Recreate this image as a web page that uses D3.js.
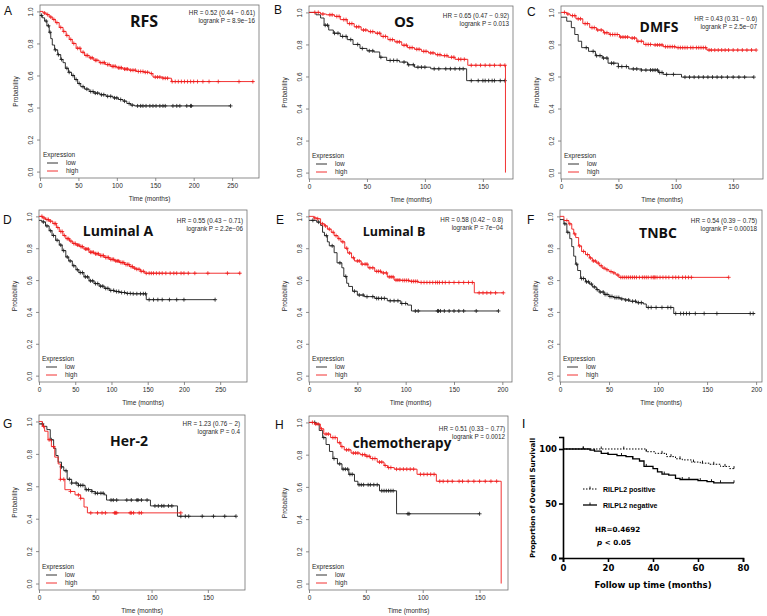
<!DOCTYPE html>
<html><head><meta charset="utf-8">
<script src="https://cdn.jsdelivr.net/npm/d3@7/dist/d3.min.js"></script>
<style>body{margin:0;background:#fff}svg{display:block}</style>
</head><body>
<svg id="c" width="767" height="616"></svg>
<script>
// ---------------- DATA ----------------
const panelLetters = ["A","B","C","D","E","F","G","H"];
const panelTitles = ["RFS","OS","DMFS","Luminal A","Luminal B","TNBC","Her-2","chemotherapy"];
const hrTexts = ["HR = 0.52 (0.44 \u2212 0.61)","HR = 0.65 (0.47 \u2212 0.92)","HR = 0.43 (0.31 \u2212 0.6)","HR = 0.55 (0.43 \u2212 0.71)","HR = 0.58 (0.42 \u2212 0.8)","HR = 0.54 (0.39 \u2212 0.75)","HR = 1.23 (0.76 \u2212 2)","HR = 0.51 (0.33 \u2212 0.77)"];
const pTexts = ["logrank P = 8.9e\u221216","logrank P = 0.013","logrank P = 2.5e\u221207","logrank P = 2.2e\u221206","logrank P = 7e\u221204","logrank P = 0.00018","logrank P = 0.4","logrank P = 0.0012"];
const xTicks250 = [0,50,100,150,200,250];
const xTicks200 = [0,50,100,150,200];
const xTicks150 = [0,50,100,150];
const yTicks = [0,0.2,0.4,0.6,0.8,1.0];
const legendTitle = "Expression";
const legendLabels = ["low","high"];

// Kaplan-Meier steps: [time, survival from that time on]; censor times
const lowA = [[0,0.975],[3,0.96],[6,0.94],[9,0.91],[12,0.87],[14,0.83],[16,0.79],[19,0.76],[23,0.73],[27,0.70],[30,0.68],[33,0.645],[37,0.62],[41,0.60],[45,0.575],[49,0.55],[53,0.53],[58,0.515],[64,0.50],[70,0.49],[78,0.48],[86,0.47],[95,0.46],[102,0.45],[108,0.44],[113,0.425],[118,0.415],[123,0.41],[248,0.41]];
const highA = [[0,1],[4,0.99],[8,0.98],[12,0.965],[16,0.95],[20,0.93],[25,0.90],[30,0.875],[34,0.85],[38,0.825],[42,0.80],[47,0.77],[53,0.745],[58,0.725],[64,0.71],[70,0.695],[77,0.68],[85,0.668],[92,0.657],[100,0.648],[108,0.64],[116,0.633],[125,0.625],[135,0.62],[143,0.612],[147,0.59],[160,0.583],[171,0.562],[278,0.562]];
const lowCensA = [2,8,11,13,20,24,28,35,38,43,47,51,56,61,66,69,72,75,80,83,88,92,97,100,105,110,116,120,127,131,134,138,143,147,151,156,160,163,173,178,182,191,196,197,248];
const highCensA = [6,10,14,18,22,27,31,35,40,44,49,52,56,60,62,66,68,72,74,79,82,84,88,90,94,96,98,102,104,106,110,112,114,118,121,124,128,131,134,137,140,145,150,153,156,160,163,166,172,176,180,184,188,192,196,200,205,212,220,232,259,277];

const lowB = [[0,1],[6,0.985],[10,0.965],[13,0.92],[17,0.89],[21,0.87],[27,0.85],[33,0.83],[38,0.80],[44,0.775],[50,0.76],[56,0.753],[61,0.72],[67,0.70],[78,0.69],[85,0.673],[91,0.658],[105,0.648],[136,0.574],[169,0.574]];
const highB = [[0,1],[10,0.99],[15,0.985],[22,0.975],[27,0.955],[33,0.93],[39,0.91],[45,0.89],[51,0.88],[57,0.87],[62,0.85],[68,0.83],[74,0.816],[80,0.795],[85,0.78],[91,0.77],[97,0.757],[103,0.747],[109,0.736],[114,0.73],[120,0.72],[126,0.707],[137,0.67],[169.5,0.67],[169.5,0]];
const lowCensB = [14,16,22,25,29,32,36,42,46,52,55,62,70,73,76,82,86,90,94,97,100,108,112,118,122,126,130,133,140,146,150,152,155,158,160,165,169];
const highCensB = [5,8,12,18,20,24,26,30,32,35,37,41,43,47,49,53,55,59,61,64,66,70,72,76,78,82,84,87,89,93,95,99,101,105,107,111,113,117,119,123,125,129,131,134,140,144,148,152,156,160,165,169];

const lowC = [[0,0.97],[5,0.945],[9,0.905],[12,0.862],[15,0.82],[18,0.78],[24,0.757],[30,0.73],[36,0.715],[41,0.683],[50,0.662],[59,0.647],[70,0.64],[85,0.625],[89,0.613],[105,0.596],[168,0.596]];
const highC = [[0,1],[5,0.99],[8,0.98],[13,0.96],[19,0.93],[25,0.905],[31,0.89],[37,0.873],[42,0.862],[51,0.846],[60,0.84],[66,0.82],[72,0.80],[80,0.797],[89,0.786],[100,0.78],[127,0.765],[170,0.765]];
const lowCensC = [22,28,31,34,37,40,44,46,50,53,57,63,66,70,74,78,80,82,84,86,88,92,98,108,112,116,120,124,128,132,136,140,145,150,155,160,168];
const highCensC = [3,6,10,12,15,17,21,23,27,29,32,35,38,40,43,45,47,49,52,54,56,58,62,64,67,70,74,76,78,82,84,86,88,91,93,95,97,99,102,104,106,108,110,113,115,118,120,122,124,126,129,131,134,137,140,143,146,150,154,158,162,166,170];

const lowD = [[0,0.975],[4,0.965],[9,0.94],[14,0.91],[18,0.88],[23,0.85],[28,0.82],[32,0.785],[37,0.745],[41,0.72],[46,0.69],[51,0.665],[55,0.647],[62,0.62],[69,0.595],[76,0.578],[83,0.562],[90,0.548],[97,0.535],[104,0.528],[111,0.522],[120,0.516],[130,0.514],[148,0.477],[243,0.477]];
const highD = [[0,1],[5,0.99],[9,0.98],[14,0.97],[19,0.955],[24,0.93],[28,0.905],[33,0.88],[37,0.86],[42,0.845],[46,0.83],[51,0.82],[56,0.81],[62,0.795],[69,0.775],[76,0.765],[83,0.754],[90,0.742],[97,0.73],[104,0.72],[111,0.71],[118,0.698],[125,0.685],[130,0.675],[134,0.668],[140,0.655],[146,0.643],[278,0.643]];
const lowCensD = [6,11,16,20,25,30,34,39,43,48,53,57,60,64,67,71,74,78,81,85,88,92,95,99,103,107,110,114,118,122,126,130,135,140,144,147,152,158,164,170,180,190,200,243];
const highCensD = [4,7,11,13,16,21,23,26,30,32,35,39,41,44,48,50,53,55,58,60,64,66,68,71,73,75,78,80,82,85,87,89,92,94,96,99,101,103,106,108,110,113,115,117,120,122,124,127,129,132,135,138,141,144,148,152,155,158,162,166,170,175,181,186,190,196,200,206,215,233,260,277];

const lowE = [[0,0.975],[8,0.964],[12,0.943],[14,0.90],[16,0.879],[19,0.84],[21,0.815],[26,0.772],[29,0.708],[34,0.677],[36,0.623],[39,0.58],[41,0.56],[45,0.53],[50,0.506],[57,0.496],[68,0.485],[81,0.47],[95,0.453],[102,0.443],[106,0.406],[196,0.406]];
const highE = [[0,1],[5,0.99],[8,0.985],[12,0.953],[16,0.94],[19,0.92],[23,0.90],[26,0.879],[30,0.86],[33,0.84],[37,0.80],[40,0.77],[44,0.74],[47,0.72],[54,0.70],[61,0.677],[68,0.655],[75,0.645],[81,0.62],[88,0.60],[95,0.598],[104,0.592],[113,0.585],[171,0.52],[201,0.52]];
const lowCensE = [4,10,18,24,32,38,47,52,56,60,66,70,72,75,78,84,88,92,96,100,110,113,133,134,136,140,145,150,155,160,173,196];
const highCensE = [6,9,14,17,21,25,28,31,35,39,42,46,50,52,55,58,60,63,66,70,72,74,77,80,83,85,87,90,92,94,97,99,101,103,106,108,110,112,116,119,122,125,128,131,133,135,138,141,145,150,155,160,165,169,176,180,184,188,193,201];

const lowF = [[0,0.98],[4,0.953],[7,0.90],[10,0.86],[12,0.81],[14,0.75],[16,0.70],[18,0.66],[21,0.61],[26,0.589],[30,0.575],[33,0.557],[37,0.54],[40,0.525],[45,0.51],[50,0.497],[55,0.49],[61,0.482],[66,0.475],[71,0.467],[78,0.458],[85,0.45],[88,0.428],[116,0.39],[199,0.39]];
const highF = [[0,1],[4,0.974],[9,0.953],[12,0.92],[14,0.89],[16,0.867],[19,0.814],[22,0.78],[26,0.76],[30,0.739],[33,0.72],[37,0.707],[40,0.69],[43,0.675],[47,0.665],[50,0.653],[54,0.645],[57,0.632],[60,0.617],[172,0.617]];
const lowCensF = [5,8,17,22,24,27,29,32,35,38,41,44,46,48,51,53,56,58,60,63,67,70,74,77,80,83,90,93,98,104,110,113,118,123,126,129,132,138,147,160,194,197];
const highCensF = [7,10,15,20,24,28,31,34,36,39,42,45,48,52,55,59,62,64,66,68,70,72,74,76,78,81,84,86,88,90,93,95,96,97,99,102,105,108,111,115,118,121,125,128,131,134,172];

const lowG = [[0,0.985],[4,0.97],[7,0.95],[10,0.887],[13,0.834],[15,0.79],[17,0.749],[20,0.72],[22,0.696],[25,0.643],[29,0.62],[35,0.606],[41,0.579],[47,0.568],[50,0.557],[58,0.547],[60,0.515],[99,0.479],[123,0.415],[175,0.415]];
const highG = [[0,1],[3,0.97],[5,0.94],[8,0.887],[11,0.845],[14,0.78],[17,0.738],[19,0.643],[23,0.579],[28,0.568],[32,0.547],[37,0.526],[40,0.472],[43,0.436],[126,0.436]];
const lowCensG = [3,11,20,24,27,29,33,35,37,39,42,44,47,50,52,55,57,64,66,69,78,82,87,88,91,96,103,106,109,111,115,118,126,130,133,145,155,165,175];
const highCensG = [4,9,13,19,22,28,35,37,46,52,56,59,67,68,69,81,82,84,89,91,126];

const lowH = [[0,1],[6,0.99],[9,0.95],[12,0.906],[15,0.863],[18,0.82],[21,0.776],[25,0.743],[29,0.71],[35,0.678],[40,0.635],[43,0.613],[62,0.576],[77,0.433],[150,0.433]];
const highH = [[0,1],[5,0.99],[10,0.96],[13,0.928],[19,0.906],[25,0.874],[28,0.85],[31,0.83],[37,0.81],[45,0.80],[50,0.79],[54,0.776],[60,0.754],[66,0.733],[69,0.72],[75,0.71],[95,0.678],[112,0.635],[169,0.635],[169,0]];
const lowCensH = [5,13,22,27,30,32,34,36,38,44,46,48,52,54,57,60,64,66,68,70,72,74,87,88,150];
const highCensH = [3,6,8,11,15,17,21,23,27,29,33,35,39,41,43,47,49,51,53,56,58,62,64,67,70,72,77,80,83,86,89,92,98,101,104,107,110,115,118,122,126,132,135,140,145,150,155,160,165];

// Panel I (GraphPad style)
const iLegend = ["RILPL2 positive","RILPL2 negative"];
const iXTicks = [0,20,40,60,80];
const iYTicks = [0,50,100];
const iPositive = [[0,100],[37,97.5],[41,96],[46,93],[50,91],[53,90],[57,88],[61,87],[65,86],[70,84],[74,82],[76,82]];
const iNegative = [[0,100],[12,99],[14,98],[17,96],[20,95],[24,94],[28,93],[31,91],[34,89],[36,84],[40,82],[42,79],[44,77],[47,76],[50,73],[52,72],[60,71],[64,70],[67,69],[76,69]];
const iPosCens = [9,17,27,37,44,48,52,58,62,67,72,76];
const iNegCens = [9,14,20,26,31,37,42,45,53,56,61,66,70,76];

// ---------------- LAYOUT ----------------
const panels = [
  {low:lowA, high:highA, lc:lowCensA, hc:highCensA, ticks:xTicks250},
  {low:lowB, high:highB, lc:lowCensB, hc:highCensB, ticks:xTicks150},
  {low:lowC, high:highC, lc:lowCensC, hc:highCensC, ticks:xTicks150},
  {low:lowD, high:highD, lc:lowCensD, hc:highCensD, ticks:xTicks250},
  {low:lowE, high:highE, lc:lowCensE, hc:highCensE, ticks:xTicks200},
  {low:lowF, high:highF, lc:lowCensF, hc:highCensF, ticks:xTicks200},
  {low:lowG, high:highG, lc:lowCensG, hc:highCensG, ticks:xTicks150},
  {low:lowH, high:highH, lc:lowCensH, hc:highCensH, ticks:xTicks150}
];
const geom = [
  {l:40, t:5,   r:259, b:178, xmax:285, lx:4,   ly:15,  tx:144, ty:27,  ts:16,   hx:255, hy:15},
  {l:309,t:6,   r:513, b:179, xmax:176, lx:274, ly:14,  tx:404, ty:27,  ts:15,   hx:509, hy:18},
  {l:561,t:6,   r:763, b:179, xmax:176, lx:527, ly:16,  tx:659, ty:32,  ts:14,   hx:757, hy:21},
  {l:39, t:210, r:247, b:382, xmax:287, lx:3,   ly:224, tx:118, ty:236, ts:14,   hx:243, hy:223},
  {l:309,t:210, r:512, b:382, xmax:210, lx:276, ly:224, tx:394, ty:236, ts:12.5, hx:503, hy:222},
  {l:560,t:210, r:762, b:382, xmax:206, lx:527, ly:224, tx:658, ty:238, ts:14,   hx:757, hy:223},
  {l:39, t:415, r:245, b:590, xmax:183, lx:3,   ly:428, tx:129, ty:446, ts:14,   hx:240, hy:426},
  {l:309,t:416, r:508, b:590, xmax:175, lx:275, ly:429, tx:402, ty:448, ts:13.5, hx:505, hy:431}
];
const RED = "#f01c1c", BLK = "#1c1c1c", GRAY = "#707070", TXT = "#2a2a2a";
const small = "Liberation Sans, Arial, sans-serif";

const svg = d3.select("#c");
svg.append("rect").attr("width",767).attr("height",616).attr("fill","#fff");

function stepVal(steps, t){
  let v = steps[0][1];
  for (const s of steps){ if (s[0] <= t) v = s[1]; else break; }
  return v;
}

panels.forEach((p, i) => {
  const G = geom[i];
  const x = d3.scaleLinear().domain([0, G.xmax]).range([G.l, G.r]);
  const y = d3.scaleLinear().domain([-0.04, 1.04]).range([G.b, G.t]);
  const g = svg.append("g");

  // axes
  const xa = g.append("g").attr("transform", `translate(0,${G.b})`)
    .call(d3.axisBottom(x).tickValues(p.ticks).tickSize(3).tickPadding(2).tickFormat(d3.format("d")));
  const ya = g.append("g").attr("transform", `translate(${G.l},0)`)
    .call(d3.axisLeft(y).tickValues(yTicks).tickSize(3).tickFormat(d3.format(".1f")));
  [xa, ya].forEach(a => {
    a.select(".domain").remove();
    a.selectAll("line").attr("stroke", GRAY).attr("stroke-width", 0.8);
    a.selectAll("text").attr("fill", TXT).style("font-family", small).style("font-size", "6.5px");
  });
  ya.selectAll("text").attr("transform","rotate(-90)").attr("x",0).attr("y",-7).attr("dy",0).attr("text-anchor","middle");

  // box
  g.append("rect").attr("x",G.l).attr("y",G.t).attr("width",G.r-G.l).attr("height",G.b-G.t)
    .attr("fill","none").attr("stroke",GRAY).attr("stroke-width",0.8);

  // axis titles
  g.append("text").attr("x",(G.l+G.r)/2).attr("y",G.b+23).attr("text-anchor","middle")
    .attr("fill",TXT).style("font-family",small).style("font-size","6.5px").text("Time (months)");
  g.append("text").attr("transform",`translate(${G.l-22},${(G.t+G.b)/2}) rotate(-90)`).attr("text-anchor","middle")
    .attr("fill",TXT).style("font-family",small).style("font-size","6.5px").text("Probability");

  // curves
  const line = d3.line().x(d=>x(d[0])).y(d=>y(d[1])).curve(d3.curveStepAfter);
  [[p.low, p.lc, BLK],[p.high, p.hc, RED]].forEach(([steps, cens, col]) => {
    g.append("path").attr("d", line(steps)).attr("fill","none").attr("stroke",col).attr("stroke-width",0.9);
    const cg = g.append("g").attr("stroke",col).attr("stroke-width",0.8);
    cens.forEach(t => {
      const cx = x(t), cy = y(stepVal(steps, t));
      cg.append("line").attr("x1",cx-2).attr("x2",cx+2).attr("y1",cy).attr("y2",cy);
      cg.append("line").attr("x1",cx).attr("x2",cx).attr("y1",cy-2).attr("y2",cy+2);
    });
  });

  // legend
  g.append("text").attr("x",G.l+3).attr("y",G.b-21).attr("fill",TXT)
    .style("font-family",small).style("font-size","6.5px").text(legendTitle);
  [[BLK,15],[RED,7]].forEach(([col,off],k) => {
    g.append("line").attr("x1",G.l+7).attr("x2",G.l+18).attr("y1",G.b-off).attr("y2",G.b-off)
      .attr("stroke",col).attr("stroke-width",0.9);
    g.append("text").attr("x",G.l+26).attr("y",G.b-off+2.2).attr("fill",TXT)
      .style("font-family",small).style("font-size","6.5px").text(legendLabels[k]);
  });

  // HR / logrank
  g.append("text").attr("x",G.hx).attr("y",G.hy).attr("text-anchor","end").attr("fill",TXT)
    .style("font-family",small).style("font-size","6.3px").text(hrTexts[i]);
  g.append("text").attr("x",G.hx).attr("y",G.hy+7.5).attr("text-anchor","end").attr("fill",TXT)
    .style("font-family",small).style("font-size","6.3px").text(pTexts[i]);

  // title
  g.append("text").attr("x",G.tx).attr("y",G.ty).attr("text-anchor","middle").attr("fill","#111")
    .style("font-family","Open Sans, sans-serif").style("font-weight","bold").style("font-size",G.ts+"px").text(panelTitles[i]);

  // letter
  g.append("text").attr("x",G.lx).attr("y",G.ly).attr("fill","#111")
    .style("font-family",small).style("font-size","12px").text(panelLetters[i]);
});

// ---------------- PANEL I ----------------
(function(){
  const bold = "DejaVu Sans, Verdana, sans-serif";
  const x = d3.scaleLinear().domain([0,80]).range([563,743]);
  const y = d3.scaleLinear().domain([0,111]).range([558,437]);
  const g = svg.append("g");
  const xa = g.append("g").attr("transform","translate(0,558)")
    .call(d3.axisBottom(x).tickValues(iXTicks).tickSizeOuter(0).tickSize(4).tickPadding(3));
  const ya = g.append("g").attr("transform","translate(563,0)")
    .call(d3.axisLeft(y).tickValues(iYTicks).tickSizeOuter(0).tickSize(4).tickPadding(2));
  [xa,ya].forEach(a=>{
    a.selectAll(".domain,line").attr("stroke","#000").attr("stroke-width",1.6);
    a.selectAll("text").attr("fill","#000").style("font-family",bold).style("font-weight","bold").style("font-size","8.5px");
  });
  g.append("text").attr("x",653).attr("y",588).attr("text-anchor","middle")
    .style("font-family",bold).style("font-weight","bold").style("font-size","8.5px").text("Follow up time (months)");
  g.append("text").attr("transform","translate(535,498) rotate(-90)").attr("text-anchor","middle")
    .style("font-family",bold).style("font-weight","bold").style("font-size","7px").text("Proportion of Overall Survivall");

  const line = d3.line().x(d=>x(d[0])).y(d=>y(d[1])).curve(d3.curveStepAfter);
  g.append("path").attr("d",line(iPositive)).attr("fill","none").attr("stroke","#000")
    .attr("stroke-width",1).attr("stroke-dasharray","1.5,1.5");
  g.append("path").attr("d",line(iNegative)).attr("fill","none").attr("stroke","#000").attr("stroke-width",1.3);
  [[iPositive,iPosCens],[iNegative,iNegCens]].forEach(([s,c])=>{
    c.forEach(t=>{
      const cx=x(t), cy=y(stepVal(s,t));
      g.append("line").attr("x1",cx).attr("x2",cx).attr("y1",cy-2.5).attr("y2",cy).attr("stroke","#000").attr("stroke-width",0.9);
    });
  });
  // legend
  [[489,"1.5,1.5",1],[505,null,1.3]].forEach(([ly,dash,w],k)=>{
    const l = g.append("line").attr("x1",583).attr("x2",597).attr("y1",ly).attr("y2",ly).attr("stroke","#000").attr("stroke-width",w);
    if (dash) l.attr("stroke-dasharray",dash);
    g.append("line").attr("x1",590).attr("x2",590).attr("y1",ly-2.5).attr("y2",ly).attr("stroke","#000").attr("stroke-width",0.9);
    g.append("text").attr("x",603).attr("y",ly+2.5).style("font-family",small).style("font-weight","bold")
      .style("font-size","7px").text(iLegend[k]);
  });
  g.append("text").attr("x",595).attr("y",532).style("font-family",bold).style("font-weight","bold")
    .style("font-size","7.2px").text("HR=0.4692");
  const pt = g.append("text").attr("x",597).attr("y",545).style("font-family",bold).style("font-weight","bold").style("font-size","7.2px");
  pt.append("tspan").style("font-style","italic").text("p");
  pt.append("tspan").text(" < 0.05");
  g.append("text").attr("x",522).attr("y",428).style("font-family",small).style("font-size","12px").text("I");
})();
</script>
</body></html>
